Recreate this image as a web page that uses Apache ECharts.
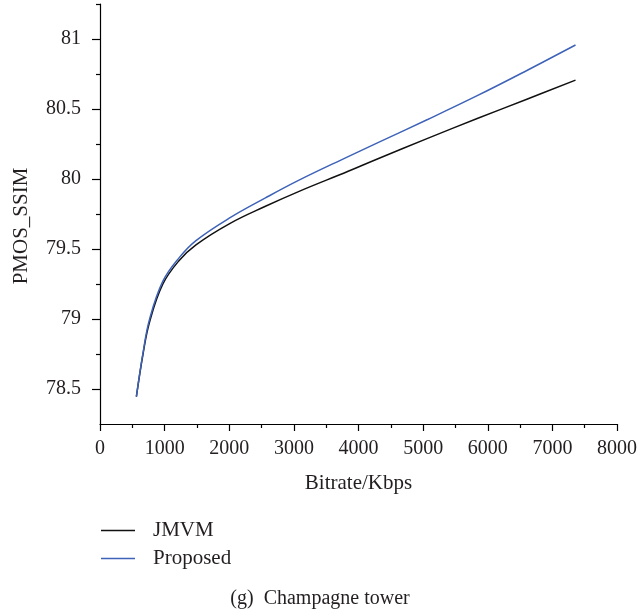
<!DOCTYPE html>
<html>
<head>
<meta charset="utf-8">
<script src="https://cdn.jsdelivr.net/npm/echarts@6/dist/echarts.min.js"></script>
<style>
  html, body { margin: 0; padding: 0; background: #fff; }
  #chart { width: 640px; height: 611px; }
</style>
</head>
<body>
<div id="chart"></div>
<script>
// bitrate (Kbps) and PMOS_SSIM
var bitrate = [563, 666, 768, 973, 1229, 1485, 2000, 2560, 3072, 3840, 4301, 5069, 5837, 6605, 7358]
var jmvm = [78.445, 78.75, 78.98, 79.25, 79.42, 79.53, 79.68, 79.805, 79.91, 80.055, 80.145, 80.29, 80.432, 80.57, 80.706]
var proposed = [78.445, 78.76, 79.0, 79.27, 79.44, 79.56, 79.72, 79.865, 79.99, 80.16, 80.26, 80.425, 80.595, 80.775, 80.957]
var yLabels = [78.5, 79, 79.5, 80, 80.5, 81]
var yMinor = [78.75, 79.25, 79.75, 80.25, 80.75, 81.25]

var font = 'Liberation Serif'
var ink = '#231f20'
var chart = echarts.init(document.getElementById('chart'))

function pairs(xs, ys) {
  return xs.map(function (x, i) { return [x, ys[i]] })
}

chart.setOption({
  animation: false,
  textStyle: { fontFamily: font },
  title: {
    text: '(g)  Champagne tower',
    left: 'center',
    top: 584,
    textStyle: { fontFamily: font, fontSize: 20, fontWeight: 'normal', color: ink }
  },
  legend: {
    orient: 'vertical',
    left: 96,
    top: 515,
    icon: 'rect',
    itemWidth: 34,
    itemHeight: 1.6,
    itemGap: 7,
    textStyle: { fontFamily: font, fontSize: 21, color: ink, padding: [0, 0, 0, 13] },
    data: ['JMVM', 'Proposed']
  },
  grid: { left: 100, right: 19, top: 4, bottom: 187 },
  xAxis: {
    type: 'value',
    min: 0,
    max: 8000,
    interval: 1000,
    name: 'Bitrate/Kbps',
    nameLocation: 'middle',
    nameGap: 49,
    nameTextStyle: { fontFamily: font, fontSize: 21, color: ink },
    axisLine: { lineStyle: { color: '#000', width: 1.2 } },
    axisTick: { length: 7, lineStyle: { color: '#000', width: 1.2 } },
    minorTick: { show: true, splitNumber: 2, length: 4, lineStyle: { color: '#000', width: 1.2 } },
    axisLabel: {
      margin: 15, fontFamily: font, fontSize: 20, color: ink,
      formatter: function (v) { return String(v) }
    },
    splitLine: { show: false }
  },
  yAxis: [{
    type: 'value',
    min: 78.25,
    max: 81.25,
    name: 'PMOS_SSIM',
    nameLocation: 'middle',
    nameGap: 68,
    nameTextStyle: { fontFamily: font, fontSize: 21, color: ink, padding: [0, 24, 0, 0] },
    axisLine: { show: true, lineStyle: { color: '#000', width: 1.2 } },
    axisTick: { show: true, length: 8, customValues: yLabels, lineStyle: { color: '#000', width: 1.2 } },
    axisLabel: {
      margin: 19, customValues: yLabels, fontFamily: font, fontSize: 20, color: ink,
      formatter: function (v) { return String(v) }
    },
    splitLine: { show: false }
  }, {
    type: 'value',
    position: 'left',
    min: 78.25,
    max: 81.25,
    axisLine: { show: false },
    axisTick: { show: true, length: 4, customValues: yMinor, lineStyle: { color: '#000', width: 1.2 } },
    axisLabel: { show: false, customValues: yMinor },
    splitLine: { show: false }
  }],
  series: [{
    name: 'JMVM',
    type: 'line',
    smooth: 0.4,
    symbol: 'none',
    itemStyle: { color: '#111' },
    lineStyle: { color: '#111', width: 1.5 },
    data: pairs(bitrate, jmvm)
  }, {
    name: 'Proposed',
    type: 'line',
    smooth: 0.4,
    symbol: 'none',
    itemStyle: { color: '#3d62b8' },
    lineStyle: { color: '#3d62b8', width: 1.5 },
    data: pairs(bitrate, proposed)
  }]
})
</script>
</body>
</html>
